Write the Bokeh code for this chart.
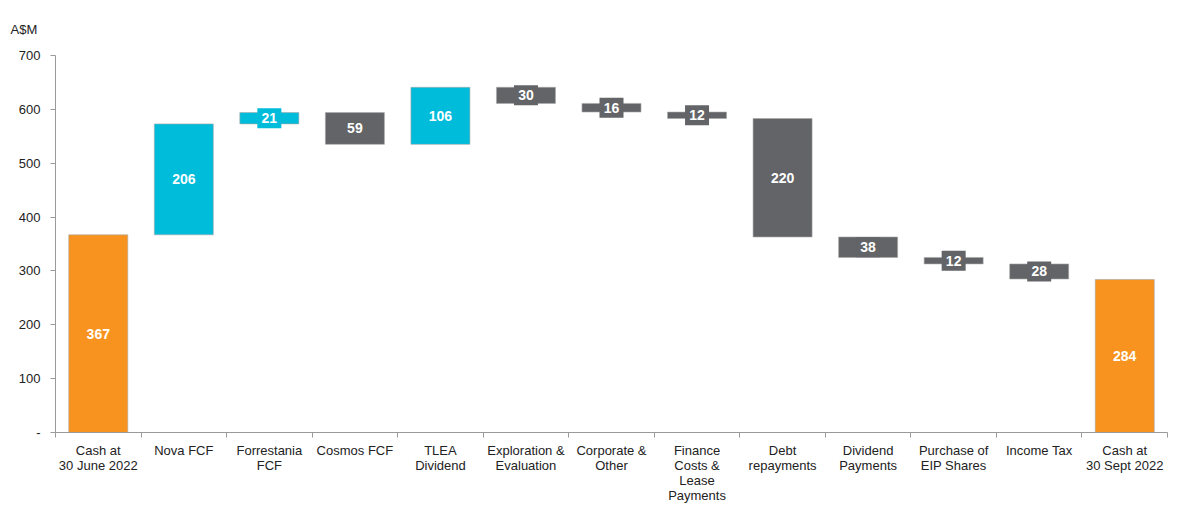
from bokeh.plotting import figure
from bokeh.models import ColumnDataSource, FixedTicker, Range1d
from bokeh.core.properties import value
from bokeh.embed import file_html
from bokeh.resources import INLINE

categories = ["Cash at\n30 June 2022", "Nova FCF", "Forrestania\nFCF", "Cosmos FCF",
              "TLEA\nDividend", "Exploration &\nEvaluation", "Corporate &\nOther",
              "Finance\nCosts &\nLease\nPayments", "Debt\nrepayments", "Dividend\nPayments",
              "Purchase of\nEIP Shares", "Income Tax", "Cash at\n30 Sept 2022"]
values = [367, 206, 21, -59, 106, -30, -16, -12, -220, -38, -12, -28, 284]
kinds = ["total", "up", "up", "down", "up", "down", "down", "down", "down", "down", "down", "down", "total"]
y_ticks = [0, 100, 200, 300, 400, 500, 600, 700]

palette = {"total": "#F7931E", "up": "#00BCDB", "down": "#636467"}
FONT = "Liberation Sans"

xs, bottoms, tops, mids, colors, texts = [], [], [], [], [], []
running = 0
for i, (v, k) in enumerate(zip(values, kinds)):
    if k == "total":
        b, t = 0, v
        running = v
    else:
        new = running + v
        b, t = min(running, new), max(running, new)
        running = new
    xs.append(i + 0.5)
    bottoms.append(b)
    tops.append(t)
    mids.append((b + t) / 2)
    colors.append(palette[k])
    texts.append(str(abs(v)))

src = ColumnDataSource(dict(x=xs, bottom=bottoms, top=tops, mid=mids, color=colors, text=texts))

p = figure(width=1168, height=505, x_range=Range1d(0, len(categories)), y_range=Range1d(0, 700),
           output_backend="svg", toolbar_location=None,
           min_border_left=55, min_border_top=55, min_border_right=1, min_border_bottom=58)
p.outline_line_color = None
p.xgrid.visible = False
p.ygrid.visible = False

p.title.text = "A$M"
p.title.text_font = FONT
p.title.text_font_size = "13px"
p.title.text_font_style = "normal"
p.title.text_color = "#222222"
p.title.align = "left"
p.title.offset = -45
p.title.standoff = 37

p.vbar(x="x", bottom="bottom", top="top", width=0.69, fill_color="color",
       line_color="#A8A8A8", line_width=0.6, source=src)
p.rect(x="x", y="mid", width=24, height=20, width_units="screen", height_units="screen",
       fill_color="color", line_color=None, source=src)
p.text(x="x", y="mid", text="text", source=src, text_color="white", text_font=value(FONT),
       text_font_style="bold", text_font_size="14px", text_align="center", text_baseline="middle")

# y axis
ya = p.yaxis[0]
ya.ticker = FixedTicker(ticks=y_ticks, minor_ticks=[])
ya.major_label_overrides = {0: "-"}
ya.axis_line_color = "#9A9A9A"
ya.major_tick_line_color = "#9A9A9A"
ya.major_tick_out = 5
ya.major_tick_in = 0
ya.major_label_text_font = FONT
ya.major_label_text_font_size = "13px"
ya.major_label_text_color = "#222222"
ya.major_label_standoff = 10

# x axis
xa = p.xaxis[0]
xa.ticker = FixedTicker(ticks=xs, minor_ticks=[i for i in range(len(categories) + 1)])
xa.major_label_overrides = {x: c for x, c in zip(xs, categories)}
xa.axis_line_color = "#9A9A9A"
xa.major_tick_line_color = None
xa.minor_tick_line_color = "#9A9A9A"
xa.minor_tick_out = 5
xa.minor_tick_in = 0
xa.major_label_text_font = FONT
xa.major_label_text_font_size = "13px"
xa.major_label_text_color = "#222222"
xa.major_label_standoff = 4
xa.major_label_text_line_height = 1.0

open("out.html", "w").write(file_html(p, INLINE))
